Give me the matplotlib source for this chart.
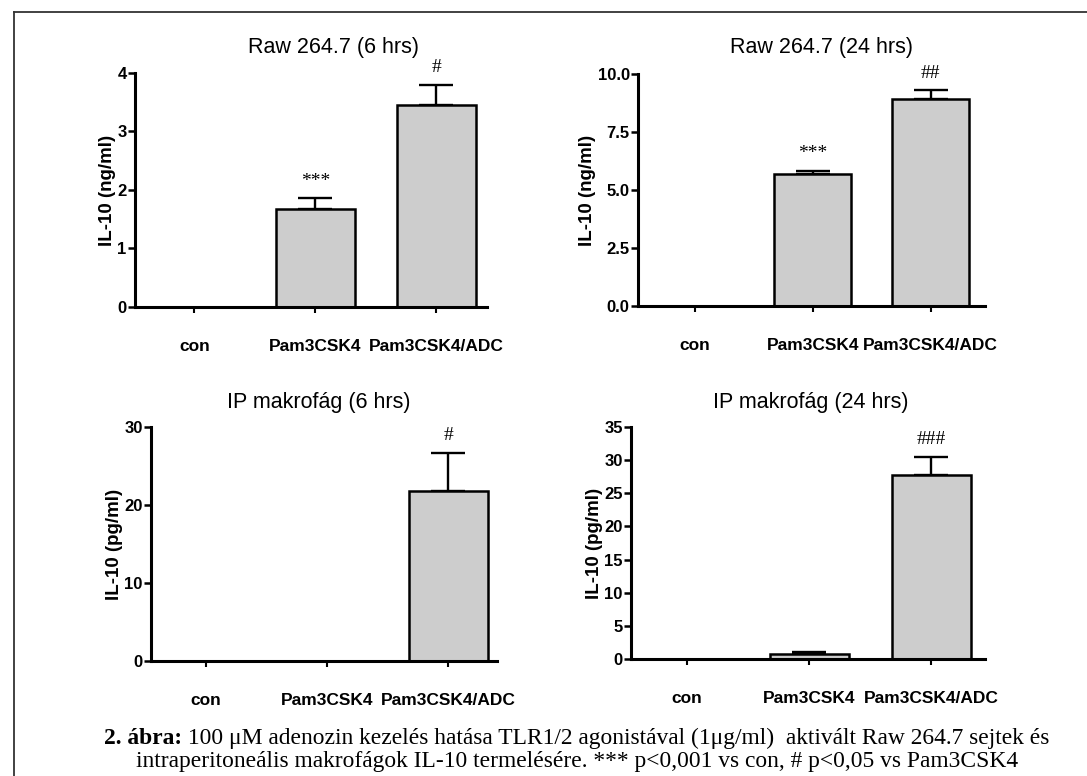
#!/usr/bin/env python3
"""IL-10 production bar charts (2x2) with Hungarian caption."""

import matplotlib
matplotlib.use('Agg')
import matplotlib.pyplot as plt
from matplotlib.lines import Line2D

groups = ['con', 'Pam3CSK4', 'Pam3CSK4/ADC']

titles = ['Raw 264.7 (6 hrs)', 'Raw 264.7 (24 hrs)',
          'IP makrofág (6 hrs)', 'IP makrofág (24 hrs)']
ylabels = ['IL-10 (ng/ml)', 'IL-10 (ng/ml)', 'IL-10 (pg/ml)', 'IL-10 (pg/ml)']

raw6_mean = [0.0, 1.67, 3.45]
raw6_err = [0.0, 0.19, 0.35]
raw24_mean = [0.0, 5.70, 8.93]
raw24_err = [0.0, 0.13, 0.38]
ip6_mean = [0.0, 0.0, 21.8]
ip6_err = [0.0, 0.0, 4.9]
ip24_mean = [0.0, 0.8, 27.7]
ip24_err = [0.0, 0.3, 2.8]

marks_raw6 = ['', '***', '#']
marks_raw24 = ['', '***', '##']
marks_ip6 = ['', '', '#']
marks_ip24 = ['', '', '###']

yticks_raw6 = [0, 1, 2, 3, 4]
yticks_raw24 = [0.0, 2.5, 5.0, 7.5, 10.0]
yticks_ip6 = [0, 10, 20, 30]
yticks_ip24 = [0, 5, 10, 15, 20, 25, 30, 35]

caption1_bold = '2. ábra:'
caption1_rest = ' 100 μM adenozin kezelés hatása TLR1/2 agonistával (1μg/ml)  aktivált Raw 264.7 sejtek és'
caption2 = 'intraperitoneális makrofágok IL-10 termelésére. *** p<0,001 vs con, # p<0,05 vs Pam3CSK4'

W, H = 1087, 776
fig = plt.figure(figsize=(W / 100, H / 100), dpi=100)

# axes boxes in pixels: left, right, bottom(y), top(y)
boxes = [(135, 487, 307, 73), (638, 985, 306, 74),
         (151, 497, 661, 427), (631, 985, 659, 427)]
title_pos = [(333, 48), (822, 48), (319, 402), (811, 402)]
xlims = [(-0.49, 2.42), (-0.48, 2.46), (-0.45, 2.40), (-0.46, 2.44)]

panels = [
    (raw6_mean, raw6_err, marks_raw6, yticks_raw6, '%d'),
    (raw24_mean, raw24_err, marks_raw24, yticks_raw24, '%.1f'),
    (ip6_mean, ip6_err, marks_ip6, yticks_ip6, '%d'),
    (ip24_mean, ip24_err, marks_ip24, yticks_ip24, '%d'),
]

sans = 'Liberation Sans'
serif = 'Liberation Serif'

for i, (means, errs, marks, yt, fmt) in enumerate(panels):
    l, r, b, t = boxes[i]
    ax = fig.add_axes([l / W, 1 - b / H, (r - l) / W, (b - t) / H])
    x = list(range(len(groups)))
    ax.bar(x, means, width=0.65, color='#cdcdcd', edgecolor='black',
           linewidth=1.8, zorder=2)
    for xi, m, e in zip(x, means, errs):
        if e > 0:
            ax.errorbar(xi, m, yerr=[[0], [e]], fmt='none', ecolor='black',
                        elinewidth=1.7, capsize=12, capthick=1.7, zorder=1)
    ymax = yt[-1]
    ax.set_ylim(0, ymax)
    ax.set_xlim(*xlims[i])
    ax.set_yticks(yt)
    ax.set_yticklabels([fmt % v for v in yt], fontfamily=sans,
                       fontweight='bold', fontsize=12)
    ax.set_xticks(x)
    ax.set_xticklabels(groups, fontfamily=sans, fontweight='bold', fontsize=12.5)
    ax.tick_params(axis='x', length=4, width=1.5, pad=19)
    ax.tick_params(axis='y', length=5, width=1.8, pad=1)
    ax.set_ylabel(ylabels[i], fontfamily=sans, fontweight='bold',
                  fontsize=13.5, labelpad=1)
    for side in ['top', 'right']:
        ax.spines[side].set_visible(False)
    for side in ['left', 'bottom']:
        ax.spines[side].set_linewidth(2.2)
    ax.patch.set_alpha(0)

    for xi, m, e, mk in zip(x, means, errs, marks):
        if mk:
            ax.annotate(mk, xy=(xi, m + e), xytext=(0, 6),
                        textcoords='offset points', ha='center', va='bottom',
                        fontfamily=serif, fontsize=14, clip_on=False)

    tx, ty = title_pos[i]
    fig.text(tx / W, 1 - ty / H, titles[i], ha='center', va='center',
             fontfamily=sans, fontsize=15.5)

# frame lines (top and left only)
fig.add_artist(Line2D([14 / W, 1.0], [1 - 12 / H, 1 - 12 / H],
                      transform=fig.transFigure, color='#333333', lw=1.3))
fig.add_artist(Line2D([14 / W, 14 / W], [1 - 12 / H, 0.0],
                      transform=fig.transFigure, color='#333333', lw=1.3))

# caption, first line mixes bold and regular text
renderer = fig.canvas.get_renderer()
cap_size = 16.9
tb = fig.text(0, 1 - 738 / H, caption1_bold, fontfamily=serif,
              fontweight='bold', fontsize=cap_size, va='center')
tr = fig.text(0, 1 - 738 / H, caption1_rest, fontfamily=serif,
              fontsize=cap_size, va='center')
wb = tb.get_window_extent(renderer).width
wr = tr.get_window_extent(renderer).width
x0 = (577 - (wb + wr) / 2) / W
tb.set_x(x0)
tr.set_x(x0 + wb / W)
fig.text(577 / W, 1 - 762 / H, caption2, fontfamily=serif, fontsize=cap_size,
         ha='center', va='center')

fig.savefig('out.png', dpi=100)
